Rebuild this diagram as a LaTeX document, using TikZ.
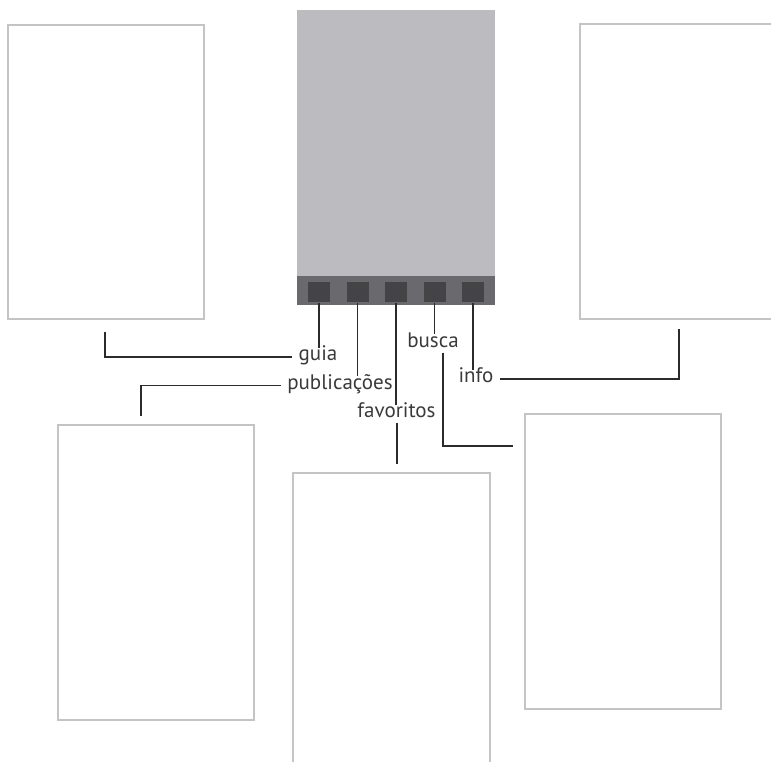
\documentclass[tikz,border=0pt]{standalone}
\usepackage{xcolor}
\usepackage{fontspec}
\setsansfont{PT Sans}
\usepackage{tikz}
\usetikzlibrary{positioning, calc}

\definecolor{screengray}{HTML}{C4C4C7}
\definecolor{bodygray}{HTML}{BCBCC0}
\definecolor{bandgray}{HTML}{6A6A6E}
\definecolor{keygray}{HTML}{444447}
\definecolor{wiregray}{HTML}{2B2B2B}
\definecolor{textgray}{HTML}{3A3A3A}

\begin{document}
\begin{tikzpicture}[
    x=0.75pt, y=-0.75pt,
    screen/.style={draw=screengray, line width=1.7pt, fill=white, minimum width=147.5pt, minimum height=221pt, inner sep=0pt},
    phone/.style={fill=bodygray, minimum width=148.5pt, minimum height=221.25pt, inner sep=0pt},
    band/.style={fill=bandgray, minimum width=148.5pt, minimum height=21.75pt, inner sep=0pt},
    key/.style={fill=keygray, minimum width=16.5pt, minimum height=15pt, inner sep=0pt},
    lbl/.style={font=\sffamily\fontsize{15.75}{18}\selectfont, text=textgray, inner xsep=4.5pt, inner ysep=0pt, text height=0.95em, text depth=0.38em},
    wire/.style={draw=wiregray, line width=1pt},
]
\useasboundingbox (0,0) rectangle (771,762);
\clip (0,0) rectangle (771,762);

% Screens
\node[screen] (scrA) at (106,172) {};
\node[screen] (scrB) at (156,572.5) {};
\node[screen] (scrC) at (391.5,620.5) {};
\node[screen] (scrD) at (623,561.5) {};
\node[screen] (scrE) at (678.5,171.5) {};

% Phone with its menu bar
\node[phone] (phone) at (396,157.5) {};
\node[band] (bar) at (396,290.5) {};
\foreach \i/\x in {1/319, 2/357.5, 3/396, 4/434.5, 5/473}
    \node[key] (btn\i) at (\x,292.5) {};

% Labels
\node[lbl] (guia) at (318,357) {guia};
\node[lbl] (publ) at (340,385.5) {publicações};
\node[lbl] (fav) at (396.5,414) {favoritos};
\node[lbl] (busca) at (433,343.5) {busca};
\node[lbl] (info) at (476,379) {info};

% Free ends near the screens
\coordinate (gEnd) at (105,332);
\coordinate (pEnd) at (141,416);
\coordinate (fEnd) at (397,464);
\coordinate (bEnd) at (513,446);
\coordinate (iEnd) at (679,329);

% Connectors
\draw[wire] (btn1) -- (btn1 |- guia.north);
\draw[wire] (guia.west) -| (gEnd);
\draw[wire] (btn2) -- (btn2 |- publ.north);
\draw[wire] (publ.west) -| (pEnd);
\draw[wire] (btn3) -- (btn3 |- fav.north);
\draw[wire] (fav.south -| fEnd) -- (fEnd);
\draw[wire] (btn4) -- (btn4 |- busca.north);
\draw[wire] ($(busca.south)+(10,0)$) |- (bEnd);
\draw[wire] (btn5) -- (btn5 |- info.north);
\draw[wire] (info.east) -| (iEnd);

\end{tikzpicture}
\end{document}
